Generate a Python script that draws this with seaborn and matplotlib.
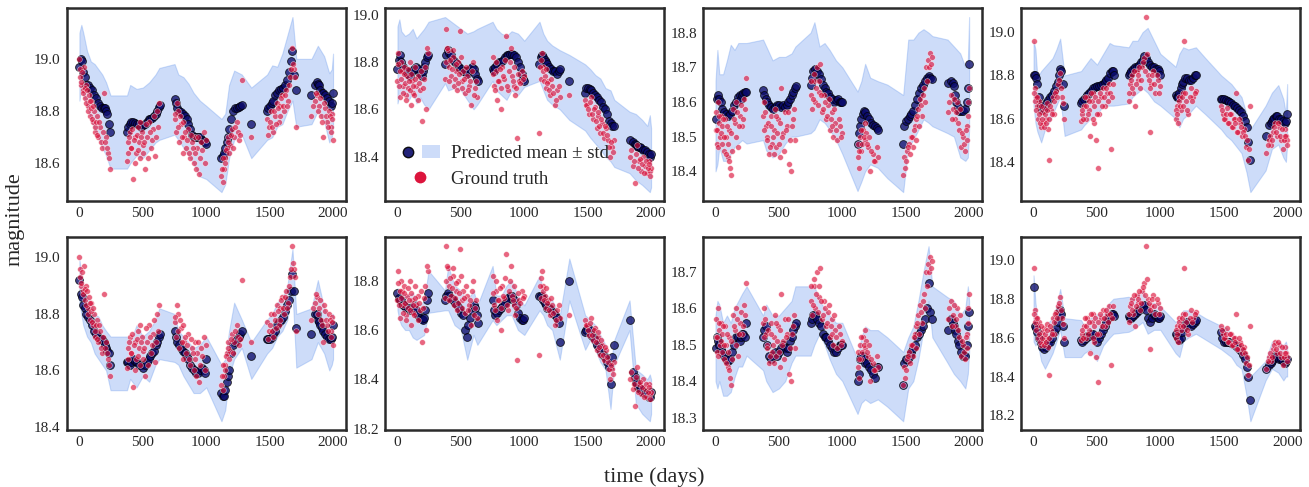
import numpy as np
import pandas as pd
import seaborn as sns
import matplotlib.pyplot as plt
from matplotlib.lines import Line2D
from matplotlib.patches import Patch
from matplotlib.legend_handler import HandlerTuple
from matplotlib.ticker import MultipleLocator

nan = np.nan

# observation times of the predicted mean (days)
t_obs = [0, 10, 20, 30, 40, 55, 70, 85, 100, 115, 130, 145, 160, 175, 190, 200, 210, 220, 230, 240,
         375, 385, 395, 410, 425, 440, 455, 470, 485, 500, 515, 530, 545, 560, 575, 590, 605, 615, 625, 635,
         750, 760, 770, 785, 800, 815, 830, 845, 860, 875, 890, 905, 920, 935, 950, 965, 980, 990, 1000,
         1120, 1130, 1140, 1150, 1160, 1170, 1180, 1195, 1210, 1225, 1240, 1255, 1270, 1280,
         1355,
         1480, 1490, 1500, 1515, 1530, 1545, 1560, 1575, 1590, 1605, 1620, 1635, 1650, 1665, 1680, 1695, 1710,
         1830, 1860, 1870, 1880, 1890, 1900, 1910, 1920, 1935, 1950, 1965, 1980, 1990, 2000]

# observation times of the ground truth (days), two interleaved sets
t_gt = [0, 8, 16, 25, 35, 45, 55, 65, 75, 85, 95, 105, 115, 125, 135, 150, 165, 180, 195, 210, 225, 240,
        375, 385, 400, 410, 420, 435, 445, 460, 470, 480, 495, 505, 520, 535, 550, 565, 580, 595, 610, 625,
        750, 760, 775, 785, 800, 815, 825, 840, 855, 870, 885, 900, 915, 930, 945, 960, 980, 995,
        1120, 1130, 1140, 1150, 1160, 1175, 1190, 1205, 1220, 1240, 1260, 1280,
        1355,
        1480, 1495, 1510, 1525, 1540, 1555, 1570, 1585, 1600, 1615, 1630, 1645, 1660, 1675, 1690, 1710,
        1830, 1860, 1875, 1890, 1905, 1920, 1935, 1950, 1965, 1980, 1990, 2000]
t_gt2 = [4, 12, 20, 30, 40, 50, 60, 70, 80, 90, 100, 110, 120, 130, 142, 158, 172, 188, 202, 218, 232,
         380, 392, 405, 415, 428, 440, 452, 465, 475, 488, 500, 512, 528, 542, 558, 572, 588, 602, 618,
         755, 768, 780, 792, 808, 820, 832, 848, 862, 878, 892, 908, 922, 938, 952, 970, 988,
         1125, 1135, 1145, 1155, 1168, 1182, 1198, 1212, 1230, 1250, 1270,
         1488, 1502, 1518, 1532, 1548, 1562, 1578, 1592, 1608, 1622, 1638, 1652, 1668, 1682, 1700,
         1845, 1868, 1882, 1898, 1912, 1928, 1942, 1958, 1972, 1985, 1995]

# time grid of the +/- std band
t_band = [0, 15, 30, 60, 90, 120, 150, 180, 210, 245, 375, 400, 450, 500, 550, 600, 630,
          750, 780, 820, 860, 900, 950, 1000, 1120, 1150, 1180, 1220, 1280, 1355,
          1480, 1520, 1560, 1600, 1640, 1680, 1710, 1830, 1880, 1930, 1970, 1990, 2000]

# ground truth, one pair of lists per column (same object in both rows)
gt_c1 = [19.00, 18.93, 18.90, 18.88, 18.97, 18.85, 18.90, 18.82, 18.86, 18.78, 18.84, 18.76, 18.80, 18.72, 18.78, 18.70, 18.74, 18.66, 18.87, 18.70, 18.64, 18.58,
         18.61, 18.68, 18.72, 18.66, 18.54, 18.70, 18.64, 18.74, 18.68, 18.62, 18.72, 18.67, 18.58, 18.70, 18.76, 18.66, 18.73, 18.63, 18.80, 18.83,
         18.77, 18.72, 18.80, 18.68, 18.75, 18.64, 18.70, 18.66, 18.73, 18.62, 18.68, 18.60, 18.70, 18.66, 18.56, 18.68, 18.72, 18.69,
         18.55, 18.53, 18.58, 18.62, 18.66, 18.70, 18.67, 18.73, 18.70, 18.76, 18.69, 18.92,
         18.70,
         18.77, 18.74, 18.80, 18.72, 18.78, 18.83, 18.76, 18.82, 18.86, 18.80, 18.88, 18.84, 18.93, 19.04, 18.96, 18.74,
         18.78, 18.84, 18.86, 18.82, 18.78, 18.70, 18.81, 18.76, 18.80, 18.74, 18.79, 18.69]
gt2_c1 = [18.96, 18.91, 18.95, 18.87, 18.89, 18.83, 18.88, 18.80, 18.84, 18.81, 18.77, 18.82, 18.74, 18.76, 18.71, 18.76, 18.68, 18.72, 18.68, 18.66, 18.62,
          18.64, 18.70, 18.66, 18.73, 18.69, 18.60, 18.71, 18.65, 18.76, 18.70, 18.64, 18.68, 18.75, 18.62, 18.72, 18.69, 18.78, 18.70, 18.74,
          18.79, 18.83, 18.74, 18.78, 18.70, 18.76, 18.72, 18.69, 18.64, 18.71, 18.66, 18.64, 18.58, 18.70, 18.62, 18.65, 18.60,
          18.58, 18.62, 18.60, 18.65, 18.68, 18.64, 18.71, 18.66, 18.74, 18.72, 18.71,
          18.71, 18.76, 18.74, 18.80, 18.75, 18.81, 18.78, 18.85, 18.82, 18.86, 18.82, 18.90, 18.96, 18.98, 18.93,
          18.82, 18.87, 18.80, 18.85, 18.76, 18.83, 18.78, 18.74, 18.78, 18.72, 18.77]
gt_c2 = [18.72, 18.84, 18.65, 18.80, 18.76, 18.70, 18.78, 18.66, 18.74, 18.69, 18.80, 18.62, 18.72, 18.67, 18.78, 18.70, 18.74, 18.68, 18.55, 18.73, 18.60, 18.84,
         18.73, 18.94, 18.85, 18.78, 18.74, 18.82, 18.70, 18.76, 18.68, 18.80, 18.93, 18.72, 18.76, 18.67, 18.74, 18.70, 18.62, 18.80, 18.69, 18.65,
         18.82, 18.70, 18.76, 18.64, 18.72, 18.60, 18.78, 18.73, 18.91, 18.68, 18.80, 18.74, 18.70, 18.66, 18.48, 18.72, 18.76, 18.74,
         18.50, 18.73, 18.84, 18.78, 18.74, 18.69, 18.72, 18.66, 18.70, 18.62, 18.68, 18.65,
         18.66,
         18.64, 18.62, 18.58, 18.65, 18.56, 18.61, 18.52, 18.57, 18.50, 18.54, 18.48, 18.52, 18.47, 18.40, 18.44, 18.47,
         18.40, 18.36, 18.29, 18.45, 18.38, 18.34, 18.40, 18.36, 18.33, 18.38, 18.34, 18.35]
gt2_c2 = [18.79, 18.70, 18.76, 18.73, 18.67, 18.75, 18.71, 18.64, 18.77, 18.72, 18.68, 18.75, 18.70, 18.66, 18.73, 18.64, 18.71, 18.76, 18.69, 18.78, 18.86,
          18.80, 18.86, 18.72, 18.81, 18.77, 18.85, 18.73, 18.79, 18.71, 18.75, 18.82, 18.69, 18.73, 18.78, 18.68, 18.72, 18.76, 18.66, 18.72,
          18.75, 18.68, 18.80, 18.72, 18.77, 18.69, 18.74, 18.81, 18.70, 18.76, 18.86, 18.72, 18.78, 18.69, 18.75, 18.71, 18.73,
          18.78, 18.81, 18.76, 18.72, 18.77, 18.71, 18.68, 18.73, 18.67, 18.64, 18.70,
          18.62, 18.60, 18.63, 18.58, 18.60, 18.55, 18.59, 18.53, 18.56, 18.50, 18.53, 18.49, 18.44, 18.46, 18.42,
          18.43, 18.38, 18.41, 18.35, 18.39, 18.37, 18.33, 18.38, 18.35, 18.37, 18.32]
gt_c3 = [18.52, 18.48, 18.60, 18.54, 18.50, 18.56, 18.53, 18.46, 18.55, 18.50, 18.44, 18.52, 18.41, 18.39, 18.58, 18.54, 18.60, 18.47, 18.56, 18.53, 18.61, 18.67,
         18.56, 18.60, 18.53, 18.50, 18.45, 18.56, 18.48, 18.52, 18.58, 18.47, 18.55, 18.44, 18.64, 18.51, 18.57, 18.53, 18.42, 18.40, 18.55, 18.49,
         18.62, 18.58, 18.66, 18.60, 18.70, 18.63, 18.71, 18.57, 18.62, 18.55, 18.59, 18.52, 18.57, 18.50, 18.54, 18.49, 18.53, 18.51,
         18.44, 18.41, 18.50, 18.46, 18.52, 18.49, 18.51, 18.47, 18.40, 18.45, 18.43, 18.44,
         nan,
         18.39, 18.41, 18.46, 18.48, 18.50, 18.47, 18.53, 18.55, 18.58, 18.61, 18.56, 18.64, 18.70, 18.72, 18.74, 18.73,
         18.57, 18.62, 18.58, 18.55, 18.60, 18.52, 18.47, 18.50, 18.46, 18.53, 18.60, 18.64]
gt2_c3 = [18.57, 18.52, 18.47, 18.56, 18.51, 18.48, 18.55, 18.50, 18.45, 18.53, 18.48, 18.43, 18.51, 18.46, 18.55, 18.50, 18.57, 18.53, 18.59, 18.55, 18.58,
          18.52, 18.57, 18.49, 18.54, 18.47, 18.53, 18.50, 18.45, 18.56, 18.51, 18.48, 18.54, 18.50, 18.46, 18.52, 18.57, 18.49, 18.53, 18.58,
          18.66, 18.61, 18.68, 18.64, 18.59, 18.66, 18.62, 18.58, 18.60, 18.56, 18.61, 18.55, 18.53, 18.58, 18.52, 18.55, 18.50,
          18.48, 18.46, 18.52, 18.48, 18.50, 18.54, 18.48, 18.50, 18.46, 18.43, 18.47,
          18.44, 18.43, 18.47, 18.45, 18.50, 18.52, 18.49, 18.56, 18.53, 18.59, 18.62, 18.60, 18.66, 18.70, 18.71,
          18.60, 18.55, 18.61, 18.57, 18.54, 18.58, 18.51, 18.48, 18.52, 18.49, 18.56]
gt_c4 = [18.96, 18.74, 18.70, 18.66, 18.60, 18.68, 18.56, 18.63, 18.58, 18.65, 18.60, 18.67, 18.55, 18.41, 18.64, 18.70, 18.62, 18.73, 18.76, 18.81, 18.70, 18.60,
         18.59, 18.62, 18.66, 18.60, 18.70, 18.64, 18.52, 18.68, 18.72, 18.58, 18.50, 18.37, 18.62, 18.70, 18.74, 18.66, 18.72, 18.76, 18.46, 18.76,
         18.68, 18.76, 18.80, 18.72, 18.66, 18.82, 18.78, 18.74, 18.84, 18.88, 19.07, 18.80, 18.54, 18.76, 18.82, 18.72, 18.78, 18.75,
         18.60, 18.66, 18.58, 18.70, 18.64, 18.72, 18.96, 18.68, 18.62, 18.74, 18.70, 18.73,
         nan,
         18.66, 18.62, 18.60, 18.65, 18.58, 18.62, 18.56, 18.60, 18.72, 18.54, 18.58, 18.52, 18.55, 18.47, 18.41, 18.66,
         18.44, 18.50, 18.48, 18.54, 18.58, 18.52, 18.56, 18.50, 18.46, 18.55, 18.52, 18.50]
gt2_c4 = [18.72, 18.68, 18.64, 18.70, 18.62, 18.58, 18.66, 18.60, 18.56, 18.62, 18.58, 18.64, 18.60, 18.66, 18.62, 18.68, 18.72, 18.70, 18.78, 18.74, 18.67,
          18.64, 18.60, 18.70, 18.66, 18.62, 18.68, 18.72, 18.60, 18.66, 18.70, 18.62, 18.68, 18.72, 18.66, 18.70, 18.74, 18.68, 18.72, 18.70,
          18.72, 18.78, 18.74, 18.82, 18.76, 18.80, 18.84, 18.78, 18.86, 18.82, 18.90, 18.78, 18.74, 18.80, 18.76, 18.80, 18.72,
          18.64, 18.62, 18.68, 18.66, 18.70, 18.66, 18.72, 18.64, 18.70, 18.68, 18.72,
          18.64, 18.60, 18.62, 18.58, 18.62, 18.56, 18.60, 18.58, 18.54, 18.60, 18.56, 18.54, 18.52, 18.50, 18.46,
          18.48, 18.52, 18.50, 18.56, 18.54, 18.58, 18.52, 18.55, 18.50, 18.52, 18.48]

# predicted mean, top row (panels 1-4) then bottom row (panels 5-8)
mean_1 = [18.97, 19.00, 18.99, 18.95, 18.93, 18.90, 18.90, 18.89, 18.88, 18.86, 18.85, 18.83, 18.82, 18.81, 18.81, 18.81, 18.80, 18.79, 18.75, 18.72,
          18.72, 18.74, 18.75, 18.76, 18.76, 18.755, 18.75, 18.75, 18.74, 18.745, 18.75, 18.76, 18.77, 18.77, 18.775, 18.78, 18.79, 18.80, 18.815, 18.825,
          18.845, 18.83, 18.81, 18.80, 18.795, 18.79, 18.78, 18.77, 18.75, 18.73, 18.71, 18.70, 18.70, 18.70, 18.70, 18.69, 18.685, 18.68, 18.675,
          18.62, 18.63, 18.64, 18.66, 18.68, 18.70, 18.73, 18.77, 18.80, 18.81, 18.81, 18.815, 18.82, 18.825,
          18.75,
          18.80, 18.81, 18.82, 18.83, 18.84, 18.86, 18.87, 18.88, 18.885, 18.89, 18.90, 18.92, 18.95, 18.99, 19.03, 18.94, 18.88,
          18.86, 18.90, 18.91, 18.905, 18.90, 18.88, 18.87, 18.87, 18.86, 18.85, 18.84, 18.82, 18.83, 18.87]
mean_2 = [18.77, 18.81, 18.83, 18.80, 18.78, 18.77, 18.76, 18.75, 18.74, 18.76, 18.77, 18.78, 18.77, 18.75, 18.74, 18.76, 18.78, 18.80, 18.82, 18.83,
          18.79, 18.83, 18.85, 18.84, 18.83, 18.81, 18.80, 18.79, 18.78, 18.77, 18.76, 18.76, 18.75, 18.76, 18.77, 18.78, 18.77, 18.75, 18.73, 18.72,
          18.77, 18.76, 18.78, 18.79, 18.80, 18.80, 18.81, 18.82, 18.83, 18.83, 18.835, 18.835, 18.83, 18.82, 18.80, 18.78, 18.75, 18.73, 18.72,
          18.79, 18.82, 18.83, 18.82, 18.81, 18.80, 18.79, 18.78, 18.77, 18.76, 18.76, 18.75, 18.76, 18.77,
          18.72,
          18.67, 18.69, 18.69, 18.685, 18.68, 18.67, 18.66, 18.65, 18.64, 18.63, 18.61, 18.60, 18.58, 18.55, 18.54, 18.53, 18.53,
          18.47, 18.46, 18.455, 18.45, 18.445, 18.44, 18.44, 18.435, 18.43, 18.43, 18.42, 18.41, 18.40, 18.41]
mean_3 = [18.55, 18.61, 18.62, 18.61, 18.60, 18.58, 18.57, 18.565, 18.56, 18.565, 18.575, 18.59, 18.60, 18.615, 18.62, 18.61, 18.62, 18.625, 18.63, 18.63,
          18.635, 18.62, 18.61, 18.60, 18.59, 18.585, 18.58, 18.585, 18.59, 18.59, 18.585, 18.59, 18.585, 18.59, 18.60, 18.61, 18.62, 18.63, 18.64, 18.645,
          18.65, 18.67, 18.69, 18.695, 18.69, 18.68, 18.665, 18.65, 18.64, 18.63, 18.625, 18.615, 18.61, 18.60, 18.605, 18.61, 18.60, 18.60, 18.60,
          18.48, 18.51, 18.53, 18.55, 18.565, 18.575, 18.57, 18.56, 18.55, 18.54, 18.535, 18.53, 18.525, 18.52,
          nan,
          18.48, 18.53, 18.545, 18.55, 18.56, 18.565, 18.575, 18.59, 18.61, 18.625, 18.64, 18.65, 18.66, 18.67, 18.675, 18.67, 18.665,
          18.655, 18.66, 18.655, 18.645, 18.62, 18.60, 18.585, 18.575, 18.575, 18.575, 18.58, 18.60, 18.64, 18.71]
mean_4 = [18.80, 18.80, 18.79, 18.76, 18.70, 18.66, 18.64, 18.65, 18.67, 18.685, 18.70, 18.71, 18.73, 18.75, 18.77, 18.80, 18.83, 18.82, 18.76, 18.66,
          18.67, 18.68, 18.69, 18.70, 18.71, 18.72, 18.73, 18.74, 18.745, 18.75, 18.75, 18.755, 18.76, 18.77, 18.78, 18.79, 18.81, 18.82, 18.82, 18.80,
          18.80, 18.81, 18.82, 18.83, 18.84, 18.84, 18.85, 18.86, 18.87, 18.89, 18.88, 18.86, 18.85, 18.84, 18.84, 18.83, 18.83, 18.82, 18.80,
          18.71, 18.70, 18.70, 18.72, 18.74, 18.76, 18.77, 18.79, 18.79, 18.78, 18.78, 18.79, 18.80, 18.80,
          nan,
          18.69, 18.69, 18.69, 18.685, 18.68, 18.675, 18.67, 18.665, 18.66, 18.65, 18.64, 18.63, 18.61, 18.59, 18.56, 18.49, 18.41,
          18.52, 18.57, 18.58, 18.59, 18.60, 18.605, 18.61, 18.61, 18.60, 18.60, 18.59, 18.58, 18.59, 18.62]
mean_5 = [18.92, 18.87, 18.86, 18.83, 18.82, 18.80, 18.79, 18.78, 18.76, 18.74, 18.73, 18.72, 18.71, 18.71, 18.70, 18.69, 18.68, 18.67, 18.66, 18.62,
          18.63, 18.63, 18.62, 18.63, 18.64, 18.635, 18.63, 18.62, 18.62, 18.61, 18.62, 18.63, 18.64, 18.65, 18.66, 18.67, 18.69, 18.70, 18.72, 18.73,
          18.74, 18.72, 18.70, 18.69, 18.68, 18.67, 18.66, 18.65, 18.64, 18.62, 18.61, 18.60, 18.59, 18.59, 18.60, 18.61, 18.60, 18.59, 18.64,
          18.52, 18.51, 18.51, 18.53, 18.56, 18.58, 18.60, 18.66, 18.69, 18.70, 18.71, 18.72, 18.73, 18.74,
          18.65,
          18.71, 18.71, 18.71, 18.72, 18.73, 18.74, 18.76, 18.77, 18.78, 18.79, 18.81, 18.83, 18.85, 18.88, 18.94, 18.88, 18.75,
          18.73, 18.80, 18.80, 18.78, 18.77, 18.76, 18.75, 18.74, 18.73, 18.72, 18.71, 18.71, 18.72, 18.76]
mean_6 = [18.75, 18.73, 18.72, 18.72, 18.70, 18.70, 18.69, 18.69, 18.68, 18.68, 18.70, 18.68, 18.66, 18.65, 18.645, 18.64, 18.65, 18.68, 18.72, 18.75,
          18.72, 18.74, 18.75, 18.74, 18.73, 18.72, 18.71, 18.70, 18.69, 18.67, 18.66, 18.60, 18.57, 18.62, 18.65, 18.68, 18.70, 18.69, 18.66, 18.63,
          18.72, 18.68, 18.66, 18.67, 18.68, 18.69, 18.70, 18.71, 18.72, 18.73, 18.74, 18.74, 18.72, 18.70, 18.67, 18.65, 18.64, 18.64, 18.65,
          18.74, 18.74, 18.73, 18.72, 18.71, 18.70, 18.69, 18.69, 18.68, 18.67, 18.66, 18.65, 18.63, 18.55,
          18.80,
          18.59, 18.60, 18.61, 18.60, 18.58, 18.57, 18.56, 18.54, 18.53, 18.51, 18.50, 18.49, 18.47, 18.45, 18.38, 18.49, 18.54,
          18.64, 18.43, 18.41, 18.39, 18.38, 18.37, 18.36, 18.36, 18.35, 18.345, 18.34, 18.33, 18.33, 18.35]
mean_7 = [18.49, 18.52, 18.51, 18.50, 18.49, 18.48, 18.47, 18.46, 18.455, 18.46, 18.48, 18.50, 18.52, 18.52, 18.51, 18.52, 18.53, 18.53, 18.52, 18.56,
          18.52, 18.54, 18.55, 18.50, 18.47, 18.46, 18.47, 18.48, 18.47, 18.48, 18.49, 18.50, 18.49, 18.48, 18.49, 18.51, 18.52, 18.54, 18.55, 18.56,
          18.56, 18.57, 18.58, 18.58, 18.57, 18.56, 18.55, 18.53, 18.52, 18.52, 18.51, 18.50, 18.49, 18.48, 18.48, 18.49, 18.50, 18.50, 18.50,
          18.40, 18.42, 18.46, 18.47, 18.47, 18.46, 18.45, 18.45, 18.44, 18.43, 18.42, 18.41, 18.44, 18.44,
          nan,
          18.39, 18.45, 18.46, 18.46, 18.47, 18.48, 18.49, 18.50, 18.52, 18.53, 18.54, 18.55, 18.57, 18.60, 18.67, 18.59, 18.57,
          18.54, 18.57, 18.56, 18.55, 18.54, 18.53, 18.51, 18.50, 18.48, 18.47, 18.47, 18.50, 18.55, 18.59]
mean_8 = [18.86, 18.66, 18.65, 18.63, 18.60, 18.57, 18.55, 18.54, 18.55, 18.57, 18.58, 18.60, 18.63, 18.65, 18.68, 18.71, 18.74, 18.72, 18.66, 18.58,
          18.59, 18.58, 18.59, 18.60, 18.61, 18.61, 18.62, 18.62, 18.60, 18.58, 18.60, 18.62, 18.64, 18.66, 18.68, 18.70, 18.71, 18.72, 18.72, 18.71,
          18.71, 18.70, 18.70, 18.71, 18.72, 18.73, 18.74, 18.75, 18.76, 18.77, 18.74, 18.70, 18.68, 18.70, 18.72, 18.71, 18.70, 18.70, 18.71,
          18.62, 18.61, 18.60, 18.59, 18.60, 18.63, 18.65, 18.67, 18.68, 18.67, 18.66, 18.67, 18.68, 18.69,
          nan,
          18.63, 18.60, 18.58, 18.58, 18.58, 18.575, 18.57, 18.565, 18.56, 18.55, 18.54, 18.53, 18.51, 18.49, 18.45, 18.40, 18.28,
          18.44, 18.46, 18.47, 18.48, 18.49, 18.50, 18.51, 18.50, 18.49, 18.49, 18.48, 18.47, 18.48, 18.49]

# mean + std / mean - std on t_band
up_1 = [19.10, 19.13, 19.10, 19.03, 18.99, 18.98, 18.96, 18.94, 18.91, 18.86, 18.86, 18.90, 18.885, 18.89, 18.91, 18.94, 18.965,
        18.98, 18.94, 18.93, 18.905, 18.87, 18.84, 18.82, 18.77, 18.79, 18.90, 18.955, 18.94, 18.89,
        18.94, 18.975, 18.97, 19.02, 19.09, 19.16, 19.00, 19.00, 19.05, 19.01, 18.945, 18.96, 19.02]
lo_1 = [18.84, 18.90, 18.86, 18.82, 18.77, 18.73, 18.70, 18.66, 18.63, 18.58, 18.58, 18.60, 18.63, 18.62, 18.65, 18.68, 18.69,
        18.71, 18.69, 18.66, 18.63, 18.60, 18.55, 18.54, 18.49, 18.52, 18.62, 18.69, 18.71, 18.62,
        18.69, 18.70, 18.74, 18.75, 18.80, 18.84, 18.74, 18.75, 18.80, 18.76, 18.68, 18.70, 18.74]
up_2 = [18.95, 18.98, 18.93, 18.91, 18.92, 18.94, 18.90, 18.92, 18.94, 18.97, 18.99, 18.98, 18.96, 18.94, 18.92, 18.93, 18.94,
        18.97, 18.94, 18.92, 18.91, 18.93, 18.92, 18.89, 18.97, 18.92, 18.89, 18.87, 18.85, 18.83,
        18.79, 18.77, 18.745, 18.73, 18.69, 18.68, 18.64, 18.59, 18.58, 18.555, 18.53, 18.575, 18.52]
lo_2 = [18.625, 18.66, 18.67, 18.66, 18.64, 18.67, 18.625, 18.65, 18.62, 18.60, 18.71, 18.68, 18.69, 18.68, 18.64, 18.60, 18.62,
        18.72, 18.68, 18.66, 18.64, 18.68, 18.66, 18.695, 18.72, 18.68, 18.64, 18.62, 18.60, 18.555,
        18.51, 18.48, 18.455, 18.43, 18.40, 18.38, 18.356, 18.33, 18.30, 18.28, 18.26, 18.25, 18.27]
up_3 = [18.66, 18.75, 18.68, 18.68, 18.72, 18.765, 18.75, 18.77, 18.77, 18.77, 18.78, 18.76, 18.72, 18.73, 18.73, 18.74, 18.76,
        18.80, 18.83, 18.76, 18.77, 18.75, 18.72, 18.70, 18.63, 18.66, 18.71, 18.67, 18.66, 18.65,
        18.62, 18.78, 18.78, 18.80, 18.81, 18.80, 18.79, 18.78, 18.76, 18.74, 18.70, 18.72, 18.845]
lo_3 = [18.40, 18.42, 18.47, 18.43, 18.43, 18.45, 18.47, 18.48, 18.49, 18.48, 18.49, 18.46, 18.44, 18.45, 18.48, 18.50, 18.50,
        18.51, 18.52, 18.55, 18.54, 18.52, 18.49, 18.45, 18.343, 18.37, 18.40, 18.42, 18.41, 18.38,
        18.34, 18.47, 18.49, 18.52, 18.55, 18.54, 18.53, 18.51, 18.50, 18.44, 18.43, 18.44, 18.52]
up_4 = [18.96, 18.92, 18.79, 18.82, 18.84, 18.86, 18.88, 18.92, 18.97, 18.80, 18.82, 18.84, 18.88, 18.85, 18.90, 18.95, 18.94,
        18.93, 18.96, 18.96, 19.00, 19.02, 18.96, 18.90, 18.84, 18.90, 18.93, 18.92, 18.93, 18.88,
        18.80, 18.78, 18.76, 18.73, 18.70, 18.62, 18.55, 18.66, 18.72, 18.755, 18.69, 18.62, 18.76]
lo_4 = [18.66, 18.58, 18.54, 18.49, 18.55, 18.58, 18.62, 18.66, 18.70, 18.52, 18.55, 18.57, 18.60, 18.62, 18.66, 18.66, 18.66,
        18.67, 18.70, 18.72, 18.74, 18.72, 18.68, 18.66, 18.60, 18.56, 18.60, 18.62, 18.66, 18.62,
        18.55, 18.52, 18.50, 18.47, 18.44, 18.35, 18.26, 18.36, 18.46, 18.48, 18.42, 18.40, 18.48]
up_5 = [18.99, 18.94, 18.90, 18.86, 18.84, 18.80, 18.79, 18.76, 18.74, 18.72, 18.72, 18.70, 18.76, 18.72, 18.74, 18.78, 18.82,
        18.80, 18.74, 18.72, 18.70, 18.68, 18.69, 18.72, 18.62, 18.64, 18.74, 18.84, 18.78, 18.70,
        18.78, 18.80, 18.84, 18.86, 18.90, 19.03, 18.80, 18.82, 18.92, 18.82, 18.78, 18.80, 18.80]
lo_5 = [18.84, 18.80, 18.76, 18.72, 18.70, 18.66, 18.64, 18.62, 18.60, 18.53, 18.53, 18.57, 18.54, 18.58, 18.56, 18.62, 18.64,
        18.63, 18.62, 18.58, 18.55, 18.52, 18.52, 18.54, 18.42, 18.46, 18.58, 18.64, 18.68, 18.57,
        18.66, 18.68, 18.72, 18.74, 18.78, 18.88, 18.61, 18.64, 18.70, 18.66, 18.60, 18.62, 18.64]
up_6 = [18.77, 18.76, 18.76, 18.74, 18.74, 18.75, 18.72, 18.70, 18.72, 18.84, 18.76, 18.86, 18.78, 18.76, 18.72, 18.76, 18.70,
        18.86, 18.74, 18.74, 18.78, 18.80, 18.74, 18.70, 18.82, 18.76, 18.74, 18.72, 18.66, 18.89,
        18.66, 18.64, 18.62, 18.58, 18.54, 18.46, 18.56, 18.72, 18.44, 18.42, 18.40, 18.42, 18.40]
lo_6 = [18.68, 18.64, 18.62, 18.60, 18.60, 18.57, 18.56, 18.57, 18.58, 18.67, 18.68, 18.68, 18.62, 18.60, 18.48, 18.58, 18.54,
        18.64, 18.62, 18.64, 18.66, 18.66, 18.60, 18.58, 18.68, 18.66, 18.62, 18.60, 18.48, 18.72,
        18.52, 18.56, 18.52, 18.47, 18.44, 18.28, 18.46, 18.60, 18.30, 18.26, 18.24, 18.23, 18.26]
up_7 = [18.58, 18.62, 18.61, 18.56, 18.58, 18.56, 18.60, 18.62, 18.64, 18.66, 18.58, 18.61, 18.58, 18.58, 18.60, 18.62, 18.66,
        18.66, 18.66, 18.62, 18.60, 18.58, 18.56, 18.56, 18.46, 18.52, 18.55, 18.54, 18.54, 18.52,
        18.48, 18.52, 18.55, 18.62, 18.70, 18.77, 18.66, 18.63, 18.62, 18.58, 18.60, 18.66, 18.62]
lo_7 = [18.40, 18.38, 18.40, 18.36, 18.36, 18.37, 18.41, 18.44, 18.44, 18.47, 18.43, 18.40, 18.37, 18.38, 18.40, 18.45, 18.47,
        18.47, 18.50, 18.53, 18.50, 18.46, 18.42, 18.40, 18.31, 18.34, 18.35, 18.34, 18.35, 18.33,
        18.29, 18.38, 18.40, 18.46, 18.54, 18.62, 18.52, 18.45, 18.42, 18.40, 18.38, 18.42, 18.48]
up_8 = [18.92, 18.78, 18.70, 18.64, 18.62, 18.68, 18.70, 18.76, 18.85, 18.70, 18.69, 18.66, 18.70, 18.72, 18.72, 18.78, 18.80,
        18.81, 18.80, 18.82, 18.84, 18.78, 18.78, 18.76, 18.68, 18.70, 18.74, 18.74, 18.73, 18.70,
        18.66, 18.65, 18.62, 18.60, 18.56, 18.48, 18.40, 18.48, 18.58, 18.58, 18.56, 18.58, 18.55]
lo_8 = [18.58, 18.56, 18.58, 18.48, 18.44, 18.48, 18.52, 18.58, 18.64, 18.50, 18.50, 18.52, 18.54, 18.48, 18.56, 18.60, 18.62,
        18.63, 18.64, 18.66, 18.68, 18.62, 18.64, 18.64, 18.52, 18.50, 18.58, 18.60, 18.62, 18.59,
        18.54, 18.52, 18.50, 18.46, 18.44, 18.30, 18.17, 18.38, 18.44, 18.42, 18.38, 18.40, 18.40]

means = [mean_1, mean_2, mean_3, mean_4, mean_5, mean_6, mean_7, mean_8]
uppers = [up_1, up_2, up_3, up_4, up_5, up_6, up_7, up_8]
lowers = [lo_1, lo_2, lo_3, lo_4, lo_5, lo_6, lo_7, lo_8]
gts = [(gt_c1, gt2_c1), (gt_c2, gt2_c2), (gt_c3, gt2_c3), (gt_c4, gt2_c4)]
ystep = [0.2, 0.2, 0.1, 0.2, 0.2, 0.2, 0.1, 0.2]

sns.set_theme(style="white")
plt.rcParams['font.family'] = ['Liberation Serif', 'DejaVu Serif']

band_col = "#6495ed"
mean_col = "#0b0b6b"
gt_col = "crimson"

fig, axes = plt.subplots(2, 4, figsize=(13.09, 4.87), dpi=100)
fig.subplots_adjust(left=0.051, right=0.993, top=0.983, bottom=0.117, wspace=0.14, hspace=0.19)

for i, ax in enumerate(axes.flat):
    ax.fill_between(t_band, lowers[i], uppers[i], facecolor=band_col, alpha=0.32,
                    edgecolor=band_col, linewidth=0.8)
    df_m = pd.DataFrame({"t": t_obs, "mag": means[i]})
    sns.scatterplot(data=df_m, x="t", y="mag", ax=ax, color=mean_col, alpha=0.78,
                    s=32, edgecolor="black", linewidth=0.6, zorder=3)
    g1, g2 = gts[i % 4]
    df_g = pd.concat([pd.DataFrame({"t": t_gt, "mag": g1}),
                      pd.DataFrame({"t": t_gt2, "mag": g2})], ignore_index=True)
    sns.scatterplot(data=df_g, x="t", y="mag", ax=ax, color=gt_col, alpha=0.65,
                    s=17, edgecolor="white", linewidth=0.4, zorder=4)
    ax.set_xlabel("")
    ax.set_ylabel("")
    ax.set_xticks([0, 500, 1000, 1500, 2000])
    ax.yaxis.set_major_locator(MultipleLocator(ystep[i]))
    ax.tick_params(labelsize=11, length=0, pad=4.3)
    for sp in ax.spines.values():
        sp.set_color("#2b2b2b")
        sp.set_linewidth(1.8)

h_mean = Line2D([], [], marker="o", linestyle="", markersize=7.5, markerfacecolor=mean_col,
                markeredgecolor="black", alpha=0.9)
h_band = Patch(facecolor=band_col, alpha=0.32, edgecolor="none")
h_gt = Line2D([], [], marker="o", linestyle="", markersize=9.5, markerfacecolor=gt_col,
              markeredgecolor="white")
axes[0, 1].legend([(h_mean, h_band), h_gt], ["Predicted mean \u00b1 std", "Ground truth"],
                  handler_map={tuple: HandlerTuple(ndivide=None, pad=0.3)},
                  loc="lower left", bbox_to_anchor=(-0.01, -0.02), frameon=False,
                  fontsize=13.5, handlelength=2.2, handletextpad=0.6, labelspacing=0.45)

fig.supxlabel("time (days)", fontsize=16, y=0.0)
fig.supylabel("magnitude", fontsize=16, x=0.004, y=0.55)

fig.savefig("out.png", dpi=100)
